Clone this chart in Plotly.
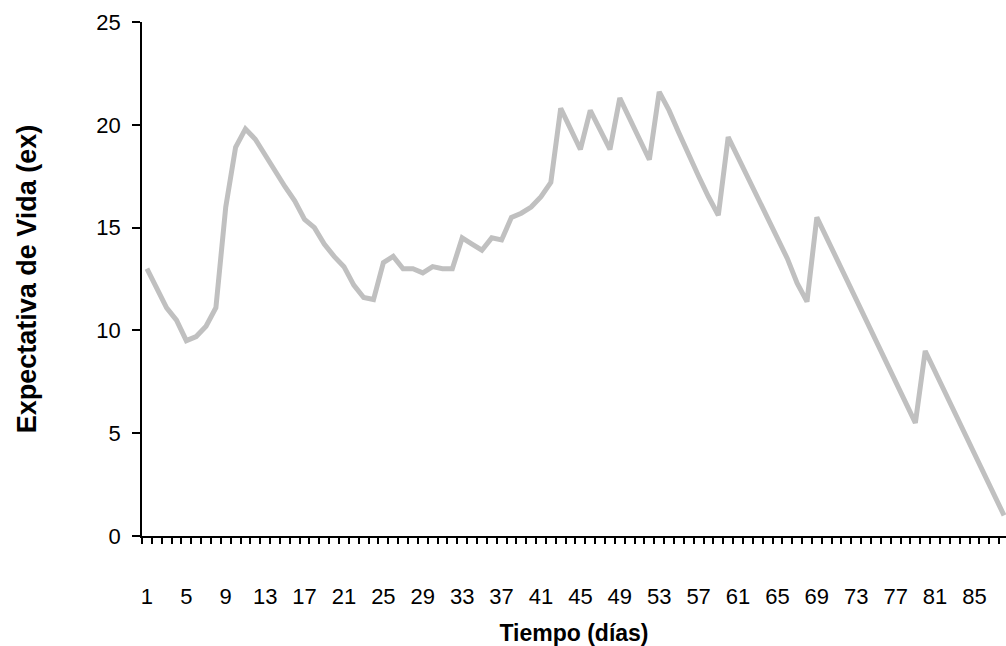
"""Expectativa de vida por día — línea gris estilo Excel."""

import plotly.graph_objects as go

DAYS = list(range(1, 89))
LIFE_EXPECTANCY = [
    13.0, 12.0, 11.1, 10.5, 9.5, 9.7, 10.2, 11.1, 16.0, 18.9,
    19.8, 19.3, 18.5, 17.8, 17.0, 16.3, 15.4, 15.0, 14.2, 13.6,
    13.1, 12.2, 11.6, 11.5, 13.3, 13.6, 13.0, 13.0, 12.8, 13.1,
    13.0, 13.0, 14.5, 14.2, 13.9, 14.5, 14.4, 15.5, 15.7, 16.0,
    16.5, 17.2, 20.8, 19.8, 18.8, 20.7, 19.8, 18.8, 21.3, 20.3,
    19.3, 18.3, 21.6, 20.7, 19.6, 18.5, 17.5, 16.5, 15.6, 19.4,
    18.4, 17.4, 16.5, 15.4, 14.4, 13.5, 12.3, 11.4, 15.5, 14.5,
    13.5, 12.5, 11.4, 10.4, 9.4, 8.5, 7.5, 6.4, 5.5, 9.0,
    8.0, 7.0, 6.1, 5.1, 4.0, 3.0, 2.0, 1.0,
]
X_TICKS = list(range(1, 89, 4))
Y_TICKS = [0, 5, 10, 15, 20, 25]

FONT = "Arial, Liberation Sans, sans-serif"

fig = go.Figure(
    go.Scatter(
        x=DAYS,
        y=LIFE_EXPECTANCY,
        mode="lines",
        line={"color": "#c0c0c0", "width": 5},
        showlegend=False,
        hoverinfo="x+y",
    )
)

fig.update_layout(
    width=1006,
    height=646,
    margin={"l": 142, "r": 0, "t": 22, "b": 110},
    paper_bgcolor="white",
    plot_bgcolor="white",
    font={"family": FONT, "size": 22, "color": "black"},
)

fig.update_xaxes(
    range=[0.5, 88.2],
    tickvals=X_TICKS,
    ticks="outside",
    ticklen=26,
    tickcolor="rgba(0,0,0,0)",
    ticklabelstandoff=14,
    showline=True,
    linecolor="black",
    linewidth=1.5,
    showgrid=False,
    zeroline=False,
    minor={
        "tick0": 0.5,
        "dtick": 1,
        "ticks": "outside",
        "ticklen": 6,
        "tickcolor": "black",
        "tickwidth": 1.5,
        "showgrid": False,
    },
    title={
        "text": "<b>Tiempo (días)</b>",
        "font": {"size": 23},
        "standoff": 19,
    },
    automargin=False,
)

fig.update_yaxes(
    range=[0, 25],
    tickvals=Y_TICKS,
    ticks="outside",
    ticklen=8,
    tickwidth=1.5,
    tickcolor="black",
    ticklabelstandoff=7,
    showline=True,
    linecolor="black",
    linewidth=1.5,
    showgrid=False,
    zeroline=False,
    title={
        "text": "<b>Expectativa de Vida (ex)</b>",
        "font": {"size": 27},
        "standoff": 52,
    },
    automargin=False,
)

# the page body keeps its default 8px margin otherwise
fig.write_html(
    "out.html",
    config={"displayModeBar": False},
    post_script="document.body.style.margin = '0';",
)
